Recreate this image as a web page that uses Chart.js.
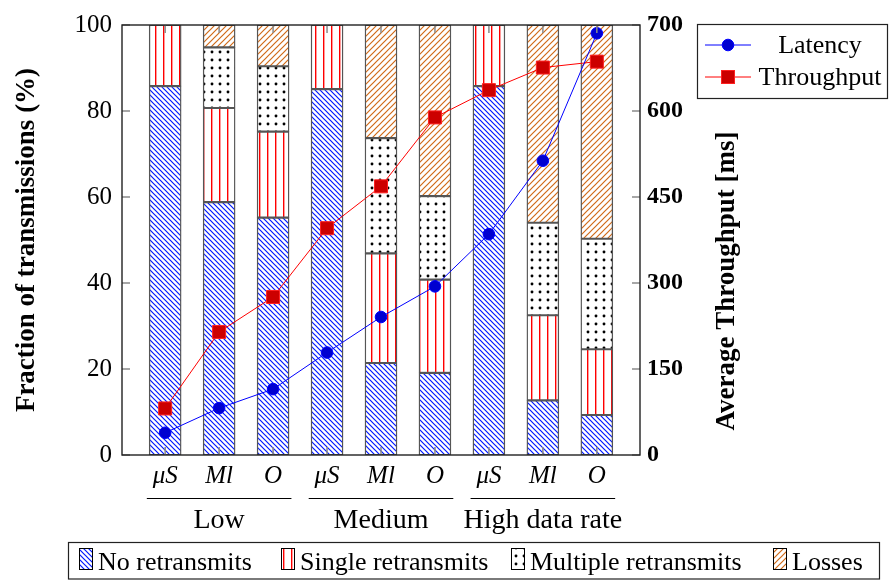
<!DOCTYPE html>
<html><head><meta charset="utf-8">
<script src="https://cdn.jsdelivr.net/npm/chart.js@4.4.1/dist/chart.umd.min.js"></script>
<style>html,body{margin:0;padding:0;background:#fff}#wrap{width:891px;height:580px}</style>
</head><body><div id="wrap"><canvas id="c" width="891" height="580"></canvas></div>
<script>
// ---- data ----
const categories = ['μS','Ml','O','μS','Ml','O','μS','Ml','O'];
const groups = ['Low','Medium','High data rate'];
const noRetransmits = [85.8,58.8,55.2,85.1,21.4,19.1,85.8,12.7,9.3];
const singleRetransmits = [14.2,21.9,20.0,14.9,25.5,21.7,14.2,19.8,15.3];
const multipleRetransmits = [0,14.1,15.2,0,26.8,19.4,0,21.5,25.7];
const losses = [0,5.2,9.6,0,26.3,39.8,0,46.0,49.7];
const latency = [38.8,81.8,114.9,178.7,240.7,294.1,385.2,513.3,735.5];
const throughput = [81.2,214.6,275.6,395.6,468.6,588.8,636.4,675.8,686.1];
const leftTicks = [0,20,40,60,80,100];
const rightTicks = [0,150,300,450,600,750];
const rightTickLabels = ['0','150','300','450','600','700'];
const barLabels = ['No retransmits','Single retransmits','Multiple retransmits','Losses'];
const lineLabels = ['Latency','Throughput'];
const leftTitle = 'Fraction of transmissions (%)';
const rightTitle = 'Average Throughput [ms]';

// ---- patterns ----
function mkPattern(s, draw){
  const c=document.createElement('canvas'); c.width=s; c.height=s;
  const g=c.getContext('2d'); g.fillStyle='#fff'; g.fillRect(0,0,s,s); draw(g,s);
  return g.createPattern(c,'repeat');
}
const patNW = mkPattern(5,(g,s)=>{g.strokeStyle='#0018ff';g.lineWidth=1.2;g.beginPath();
  g.moveTo(-1,-1);g.lineTo(s+1,s+1);g.moveTo(s-1,-1);g.lineTo(s+1,1);g.moveTo(-1,s-1);g.lineTo(1,s+1);g.stroke();});
const patV = mkPattern(8,(g,s)=>{g.fillStyle='#ff0000';g.fillRect(3,0,1.4,s);});
const patDots = mkPattern(8,(g,s)=>{g.fillStyle='#000';g.beginPath();g.arc(4,4,1.45,0,Math.PI*2);g.fill();});
const patNE = mkPattern(6,(g,s)=>{g.strokeStyle='#d06a18';g.lineWidth=1.2;g.beginPath();
  g.moveTo(-1,s+1);g.lineTo(s+1,-1);g.moveTo(-1,1);g.lineTo(1,-1);g.moveTo(s-1,s+1);g.lineTo(s+1,s-1);g.stroke();});
const barPatterns = [patNW, patV, patDots, patNE];
const barSeries = [noRetransmits, singleRetransmits, multipleRetransmits, losses];

const F = 'Liberation Serif';
const FS = '"Liberation Serif", "DejaVu Serif", serif';
Chart.defaults.font.family = FS;
Chart.defaults.color = '#000';

const overlay = {
  id:'overlay',
  afterDraw(chart){
    const ctx = chart.ctx, a = chart.chartArea;
    const xs = chart.scales.x, ys = chart.scales.y, y2 = chart.scales.y2;
    ctx.save();
    // tick marks
    ctx.strokeStyle='#8a8a8a'; ctx.lineWidth=1.5;
    ctx.beginPath();
    leftTicks.forEach(v=>{const y=ys.getPixelForValue(v); ctx.moveTo(a.left,y); ctx.lineTo(a.left+8,y);});
    rightTicks.forEach(v=>{const y=y2.getPixelForValue(v); ctx.moveTo(a.right,y); ctx.lineTo(a.right-8,y);});
    categories.forEach((c,i)=>{const x=xs.getPixelForValue(i);
      ctx.moveTo(x,a.bottom); ctx.lineTo(x,a.bottom-8); ctx.moveTo(x,a.top); ctx.lineTo(x,a.top+8);});
    ctx.stroke();
    // box
    ctx.strokeStyle='#222'; ctx.lineWidth=1.4;
    ctx.strokeRect(a.left, a.top, a.right-a.left, a.bottom-a.top);
    // group lines & labels
    ctx.fillStyle='#000'; ctx.strokeStyle='#000'; ctx.lineWidth=1;
    ctx.font = '28px '+FS; ctx.textAlign='center'; ctx.textBaseline='alphabetic';
    groups.forEach((g,k)=>{
      const x0 = xs.getPixelForValue(3*k-0.34), x1 = xs.getPixelForValue(3*k+2+0.34);
      ctx.beginPath(); ctx.moveTo(x0,498.5); ctx.lineTo(x1,498.5); ctx.stroke();
      ctx.fillText(g, xs.getPixelForValue(3*k+1), 528);
    });
    // axis titles
    ctx.font = 'bold 27px '+FS;
    ctx.save(); ctx.translate(27, (a.top+a.bottom)/2); ctx.rotate(-Math.PI/2);
    ctx.textBaseline='middle'; ctx.fillText(leftTitle,0,0); ctx.restore();
    ctx.save(); ctx.translate(727, 281); ctx.rotate(-Math.PI/2);
    ctx.textBaseline='middle'; ctx.fillText(rightTitle,0,0); ctx.restore();
    // top-right legend
    ctx.fillStyle='#fff'; ctx.fillRect(697,24,191,74);
    ctx.strokeStyle='#222'; ctx.lineWidth=1.2; ctx.strokeRect(697.5,24.5,190,74);
    const ds = chart.data.datasets;
    [0,1].forEach(k=>{
      const d = ds[k], y = 45 + k*32;
      ctx.strokeStyle=d.borderColor; ctx.lineWidth=1; ctx.beginPath(); ctx.moveTo(705,y); ctx.lineTo(751,y); ctx.stroke();
      ctx.fillStyle=d.pointBackgroundColor; ctx.strokeStyle=d.pointBorderColor;
      if(d.pointStyle==='circle'){ctx.beginPath(); ctx.arc(728,y,5.8,0,Math.PI*2); ctx.fill(); ctx.stroke();}
      else {ctx.fillRect(721.5,y-6.5,13,13); ctx.strokeRect(721.5,y-6.5,13,13);}
      ctx.fillStyle='#000'; ctx.font='26px '+FS; ctx.textAlign='center'; ctx.textBaseline='middle';
      ctx.fillText(lineLabels[k], 820, y+1);
    });
    // bottom legend
    ctx.strokeStyle='#222'; ctx.lineWidth=1.2; ctx.strokeRect(68.5,542.5,811,36.5);
    const starts = [79, 281, 511, 773];
    ctx.font='26px '+FS; ctx.textAlign='left'; ctx.textBaseline='alphabetic';
    barLabels.forEach((lab,k)=>{
      const x = starts[k];
      ctx.fillStyle = barPatterns[k]; ctx.fillRect(x,548,13,22);
      ctx.strokeStyle='#000'; ctx.lineWidth=1; ctx.strokeRect(x+0.5,548.5,13,21);
      ctx.fillStyle='#000'; ctx.fillText(lab, x+19, 570);
    });
    ctx.restore();
  }
};

const datasets = [
  {type:'line', label:lineLabels[0], data: latency.map((v,i)=>({x:i,y:v})), yAxisID:'y2',
   borderColor:'#0000ff', borderWidth:1, pointStyle:'circle', pointRadius:5.8,
   pointBackgroundColor:'#0000d0', pointBorderColor:'#0000ff', pointBorderWidth:1, order:0, tension:0},
  {type:'line', label:lineLabels[1], data: throughput.map((v,i)=>({x:i,y:v})), yAxisID:'y2',
   borderColor:'#ff0000', borderWidth:1, pointStyle:'rect', pointRadius:9.2,
   pointBackgroundColor:'#cc0000', pointBorderColor:'#ff2020', pointBorderWidth:1, order:0, tension:0}
];
barSeries.forEach((arr,k)=>{
  datasets.push({type:'bar', label:barLabels[k], data: arr.map((v,i)=>({x:i,y:v})), yAxisID:'y',
    backgroundColor: barPatterns[k], borderColor:'#555', borderWidth:1.4, borderSkipped:false,
    barThickness:32, order:1, stack:'s'});
});

new Chart(document.getElementById('c'), {
  type:'bar',
  data:{datasets},
  options:{
    responsive:false, animation:false, devicePixelRatio:1,
    layout:{padding:{top:24,left:0,right:0,bottom:0}},
    plugins:{legend:{display:false}, tooltip:{enabled:false}},
    scales:{
      x:{type:'linear', min:-0.8, max:8.8, stacked:true, offset:false,
         grid:{display:false, drawTicks:false}, border:{display:false},
         afterBuildTicks: s=>{ s.ticks = categories.map((c,i)=>({value:i})); },
         ticks:{callback:v=>categories[v], font:{family:FS, size:25, style:'italic'}, padding:6, maxRotation:0, autoSkip:false},
         afterFit: s=>{ s.height = 125; }},
      y:{position:'left', min:0, max:100, stacked:true,
         grid:{display:false, drawTicks:false}, border:{display:false},
         afterBuildTicks: s=>{ s.ticks = leftTicks.map(v=>({value:v})); },
         ticks:{font:{family:FS, size:25}, padding:10},
         afterFit: s=>{ s.width = 122; }},
      y2:{position:'right', min:0, max:750,
         grid:{display:false, drawTicks:false}, border:{display:false},
         afterBuildTicks: s=>{ s.ticks = rightTicks.map(v=>({value:v})); },
         ticks:{callback:v=>rightTickLabels[rightTicks.indexOf(v)], font:{family:FS, size:24, weight:'bold'}, padding:7},
         afterFit: s=>{ s.width = 251; }}
    }
  },
  plugins:[overlay]
});
</script></body></html>
